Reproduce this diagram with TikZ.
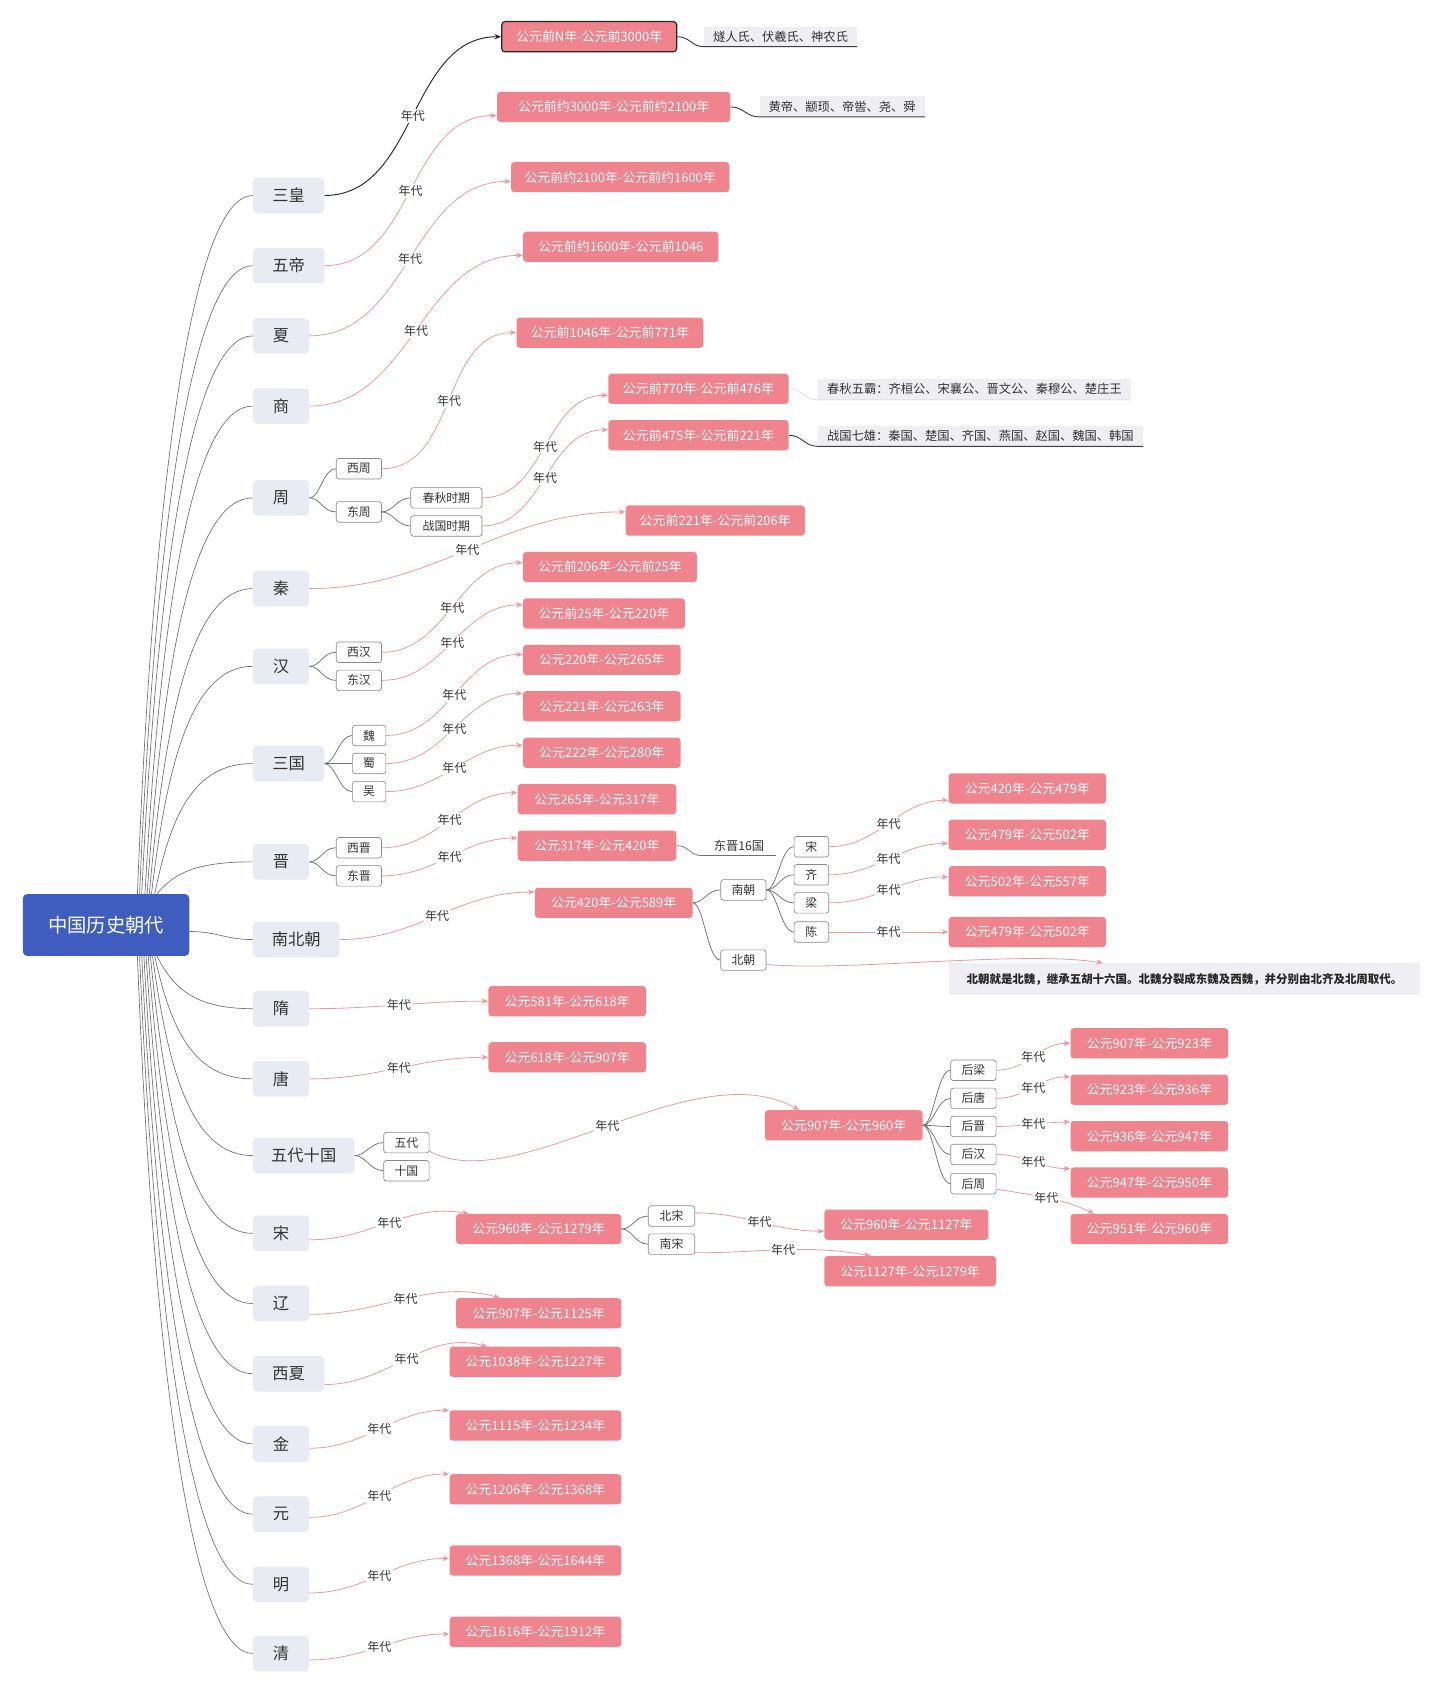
\documentclass[tikz,border=0pt]{standalone}
\usepackage{fontspec}
\setmainfont{Noto Sans CJK SC}
\usetikzlibrary{arrows.meta,calc}
\def\ux{0.81pt}
\definecolor{pinkfill}{HTML}{F0848E}
\definecolor{relpink}{HTML}{EC98A0}
\definecolor{rootblue}{HTML}{3F5DBE}
\definecolor{lvgrey}{HTML}{E9EBF2}
\definecolor{notegrey}{HTML}{EEEEF3}
\definecolor{txt}{HTML}{333333}
\definecolor{treegrey}{HTML}{707070}
\definecolor{subborder}{HTML}{8A8A8A}
\begin{document}
\begin{tikzpicture}[x=0.81pt,y=-0.81pt,
  rootbox/.style={fill=rootblue, rounded corners=3pt, text=white, font=\fontsize{14.5}{17}\selectfont, minimum width=154*\ux, minimum height=57*\ux, inner sep=0pt, anchor=west},
  lvl/.style={fill=lvgrey, rounded corners=3pt, text=txt, font=\fontsize{12.2}{14}\selectfont, minimum width=#1*\ux, minimum height=33*\ux, inner sep=0pt, anchor=west},
  pbox/.style={fill=pinkfill, rounded corners=2.5pt, text=white, font=\fontsize{9.7}{11}\selectfont, minimum width=#1*\ux, minimum height=28*\ux, inner sep=0pt, anchor=west},
  sub/.style={fill=white, draw=subborder, line width=0.5pt, rounded corners=2pt, text=txt, font=\fontsize{8.9}{10}\selectfont, minimum width=#1*\ux, minimum height=19*\ux, inner sep=0pt, anchor=west},
  notebox/.style={fill=notegrey, text=txt, font=\fontsize{9.2}{11}\selectfont, minimum width=#1*\ux, minimum height=19*\ux, inner sep=0pt, anchor=west},
  rootline/.style={draw=treegrey, line width=0.5pt},
  tree/.style={draw=treegrey, line width=0.55pt},
  noteline/.style={draw=black!75, line width=0.7pt},
  rel/.style={draw=relpink, line width=0.6pt, -{Stealth[length=5pt,width=4pt]}},
  relblack/.style={draw=black!85, line width=0.7pt, -{Stealth[length=5pt,width=4pt]}},
  lab/.style={fill=white, inner sep=1pt, text=txt, font=\fontsize{9}{10}\selectfont}
]
\fill[white] (0,0) rectangle (1333.3,1566.7);
\useasboundingbox (0,0) rectangle (1333.3,1566.7);

% root
\node[rootbox] (root) at (21,856.5) {中国历史朝代};

% level 1
\node[lvl=66] (sh) at (234,181) {三皇};
\node[lvl=66] (wd) at (234,246) {五帝};
\node[lvl=52] (xia) at (234,311) {夏};
\node[lvl=52] (shang) at (234,376) {商};
\node[lvl=52] (zhou) at (234,461) {周};
\node[lvl=52] (qin) at (234,545) {秦};
\node[lvl=52] (han) at (234,617) {汉};
\node[lvl=66] (sg) at (234,707) {三国};
\node[lvl=52] (jin) at (234,798) {晋};
\node[lvl=80] (nbc) at (234,870) {南北朝};
\node[lvl=52] (sui) at (234,934) {隋};
\node[lvl=52] (tang) at (234,999) {唐};
\node[lvl=94] (wdsg) at (234,1070) {五代十国};
\node[lvl=52] (song) at (234,1142) {宋};
\node[lvl=52] (liao) at (234,1207) {辽};
\node[lvl=66] (xx) at (234,1272) {西夏};
\node[lvl=52] (jinn) at (234,1337) {金};
\node[lvl=52] (yuan) at (234,1402) {元};
\node[lvl=52] (ming) at (234,1467) {明};
\node[lvl=52] (qing) at (234,1531) {清};

% root edges
\foreach \n/\o/\d in {sh/29/388, wd/31/349, xia/33/310, shang/36/271, zhou/38/220, qin/40/170, han/42/127, sg/45/73, jin/47/18}
  \draw[rootline] ($(root.north)+(\o,0)$) .. controls +(15,-\d) and +(-55,0) .. (\n.west);
\foreach \n/\o/\d in {sui/47/29, tang/45/68, wdsg/43/111, song/41/154, liao/39/193, xx/37/232, jinn/35/271, yuan/33/310, ming/31/349, qing/29/388}
  \draw[rootline] ($(root.south)+(\o,0)$) .. controls +(15,\d) and +(-55,0) .. (\n.west);
\draw[rootline] ($(root.east)+(0,6)$) .. controls +(25,0) and +(-25,0) .. (nbc.west);

% pink boxes
\node[pbox=162, draw=black!85, line width=0.9pt] (p1) at (464,34) {公元前N年-公元前3000年};
\node[pbox=216] (p2) at (460,99) {公元前约3000年-公元前约2100年};
\node[pbox=202] (p3) at (473,164) {公元前约2100年-公元前约1600年};
\node[pbox=181] (p4) at (484,228.5) {公元前约1600年-公元前1046};
\node[pbox=173] (p5) at (478,308) {公元前1046年-公元前771年};
\node[pbox=167] (p6) at (563,360) {公元前770年-公元前476年};
\node[pbox=167] (p7) at (563,403) {公元前475年-公元前221年};
\node[pbox=166] (p8) at (579,482) {公元前221年-公元前206年};
\node[pbox=161] (p9) at (484,525) {公元前206年-公元前25年};
\node[pbox=150] (p10) at (484,568) {公元前25年-公元220年};
\node[pbox=146] (p11) at (484,611) {公元220年-公元265年};
\node[pbox=146] (p12) at (484,654) {公元221年-公元263年};
\node[pbox=146] (p13) at (484,697) {公元222年-公元280年};
\node[pbox=147] (p14) at (479,740) {公元265年-公元317年};
\node[pbox=147] (p15) at (479,783) {公元317年-公元420年};
\node[pbox=146] (p16) at (495,836) {公元420年-公元589年};
\node[pbox=146] (p17) at (878,730) {公元420年-公元479年};
\node[pbox=146] (p18) at (878,773) {公元479年-公元502年};
\node[pbox=146] (p19) at (878,816) {公元502年-公元557年};
\node[pbox=146] (p20) at (878,863) {公元479年-公元502年};
\node[pbox=146] (p21) at (452,927) {公元581年-公元618年};
\node[pbox=146] (p22) at (452,979) {公元618年-公元907年};
\node[pbox=146] (p23) at (708,1042) {公元907年-公元960年};
\node[pbox=146] (p24) at (991,966) {公元907年-公元923年};
\node[pbox=146] (p25) at (991,1009) {公元923年-公元936年};
\node[pbox=146] (p26) at (991,1052) {公元936年-公元947年};
\node[pbox=146] (p27) at (991,1095) {公元947年-公元950年};
\node[pbox=146] (p28) at (991,1138) {公元951年-公元960年};
\node[pbox=153] (p29) at (422,1138) {公元960年-公元1279年};
\node[pbox=152] (p30) at (763,1134) {公元960年-公元1127年};
\node[pbox=159] (p31) at (763,1177) {公元1127年-公元1279年};
\node[pbox=153] (p32) at (422,1216) {公元907年-公元1125年};
\node[pbox=159] (p33) at (416,1261) {公元1038年-公元1227年};
\node[pbox=159] (p34) at (416,1320) {公元1115年-公元1234年};
\node[pbox=159] (p35) at (416,1379) {公元1206年-公元1368年};
\node[pbox=159] (p36) at (416,1445) {公元1368年-公元1644年};
\node[pbox=159] (p37) at (416,1511) {公元1616年-公元1912年};

% sub boxes
\node[sub=42] (xzhou) at (311,434) {西周};
\node[sub=42] (dzhou) at (311,474) {东周};
\node[sub=66] (cq) at (380,461) {春秋时期};
\node[sub=66] (zg) at (380,487) {战国时期};
\node[sub=42] (xhan) at (311,604) {西汉};
\node[sub=42] (dhan) at (311,630) {东汉};
\node[sub=31] (wei) at (326,681) {魏};
\node[sub=31] (shu) at (326,707) {蜀};
\node[sub=31] (wu) at (326,733) {吴};
\node[sub=42] (xjin) at (311,785) {西晋};
\node[sub=42] (djin) at (311,811) {东晋};
\node[sub=42] (nanchao) at (667,824) {南朝};
\node[sub=42] (beichao) at (667,889) {北朝};
\node[sub=32] (s2) at (735,784) {宋};
\node[sub=32] (qi) at (735,810) {齐};
\node[sub=32] (liang) at (735,836) {梁};
\node[sub=32] (chen) at (735,863) {陈};
\node[sub=42] (wudai) at (355,1058) {五代};
\node[sub=42] (shiguo) at (355,1084) {十国};
\node[sub=42] (hl) at (880,991) {后梁};
\node[sub=42] (ht) at (880,1017) {后唐};
\node[sub=42] (hj) at (880,1043) {后晋};
\node[sub=42] (hh) at (880,1069) {后汉};
\node[sub=42] (hz) at (880,1096) {后周};
\node[sub=43] (bs) at (600,1126) {北宋};
\node[sub=43] (ns) at (600,1152) {南宋};
\node[anchor=west, inner sep=0pt, minimum width=68*\ux, minimum height=18*\ux, text=txt, font=\fontsize{9.2}{11}\selectfont] (dj16) at (650,783) {东晋16国};

% notes
\node[notebox=141, minimum height=18*\ux] (n1) at (652,34) {燧人氏、伏羲氏、神农氏};
\node[notebox=153] (n2) at (703,98.5) {黄帝、颛顼、帝喾、尧、舜};
\node[notebox=290] (n6) at (757,360.5) {春秋五霸：齐桓公、宋襄公、晋文公、秦穆公、楚庄王};
\node[notebox=301] (n7) at (757,403.5) {战国七雄：秦国、楚国、齐国、燕国、赵国、魏国、韩国};
\node[notebox=437, minimum height=29*\ux, font=\fontsize{8.6}{10}\selectfont\bfseries, text=black!85] (nb) at (878,906.5) {北朝就是北魏，继承五胡十六国。北魏分裂成东魏及西魏，并分别由北齐及北周取代。};

% tree branches
\foreach \a/\b in {zhou/xzhou, zhou/dzhou, dzhou/cq, dzhou/zg, han/xhan, han/dhan, sg/wei, sg/shu, sg/wu, jin/xjin, jin/djin, p16/nanchao, p16/beichao, nanchao/s2, nanchao/qi, nanchao/liang, nanchao/chen, wdsg/wudai, wdsg/shiguo, p23/hl, p23/ht, p23/hj, p23/hh, p23/hz, p29/bs, p29/ns}
  \draw[tree] (\a.east) .. controls +(10,0) and +(-12,0) .. (\b.west);
\draw[tree] (p15.east) .. controls +(12,0) and +(-12,0) .. (dj16.south west);
\draw[tree] (dj16.south west) -- (dj16.south east);

% note connectors
\draw[noteline] (p1.east) .. controls +(12,0) and +(-12,0) .. (n1.south west) -- (n1.south east);
\draw[noteline] (p2.east) .. controls +(12,0) and +(-12,0) .. (n2.south west) -- (n2.south east);
\draw[draw=black!12, line width=0.7pt] (p6.east) .. controls +(12,0) and +(-12,0) .. (n6.south west) -- (n6.south east);
\draw[noteline] (p7.east) .. controls +(12,0) and +(-12,0) .. (n7.south west) -- (n7.south east);

% relations
\draw[relblack] (sh.east) to[out=0,in=180] node[lab]{年代} (p1.west);
\draw[rel] (wd.east) to[out=0,in=180] node[lab]{年代} ($(p2.west)+(0,8)$);
\draw[rel] (xia.east) to[out=0,in=180] node[lab]{年代} ($(p3.west)+(0,4)$);
\draw[rel] (shang.east) to[out=0,in=180] node[lab]{年代} ($(p4.west)+(0,8)$);
\draw[rel] (xzhou.east) to[out=0,in=180] node[lab]{年代} (p5.west);
\draw[rel] (cq.east) to[out=0,in=180] node[lab]{年代} ($(p6.west)+(0,6)$);
\draw[rel] (zg.east) to[out=0,in=180] node[lab]{年代} ($(p7.west)+(0,-5)$);
\draw[rel] (qin.east) to[out=0,in=180] node[lab]{年代} ($(p8.west)+(0,-8)$);
\draw[rel] (xhan.east) to[out=0,in=180] node[lab]{年代} ($(p9.west)+(0,-4)$);
\draw[rel] (dhan.east) to[out=0,in=180] node[lab]{年代} ($(p10.west)+(0,-8)$);
\draw[rel] (wei.east) to[out=0,in=180] node[lab]{年代} ($(p11.west)+(0,-5)$);
\draw[rel] (shu.east) to[out=0,in=180] node[lab]{年代} ($(p12.west)+(0,-12)$);
\draw[rel] (wu.east) to[out=0,in=180] node[lab]{年代} ($(p13.west)+(0,-7)$);
\draw[rel] (xjin.east) to[out=0,in=180] node[lab]{年代} ($(p14.west)+(0,-6)$);
\draw[rel] (djin.east) to[out=0,in=180] node[lab]{年代} ($(p15.west)+(0,-7)$);
\draw[rel] (nbc.east) to[out=0,in=180] node[lab]{年代} ($(p16.west)+(0,-10)$);
\draw[rel] (s2.east) to[out=0,in=180] node[lab]{年代} ($(p17.west)+(0,11)$);
\draw[rel] (qi.east) to[out=0,in=180] node[lab]{年代} ($(p18.west)+(0,8)$);
\draw[rel] (liang.east) to[out=0,in=180] node[lab]{年代} ($(p19.west)+(0,-4)$);
\draw[rel] (chen.east) to[out=0,in=180] node[lab]{年代} (p20.west);
\draw[rel] ($(beichao.east)+(0,4)$) .. controls +(70,7) and +(-71,-12) .. ($(nb.north west)+(143,0)$);
\draw[rel] (sui.east) to[out=0,in=180] node[lab]{年代} (p21.west);
\draw[rel] (tang.east) to[out=0,in=180] node[lab]{年代} (p22.west);
\draw[rel] ($(wudai.east)+(0,8)$) .. controls +(83,44) and +(-100,-55) .. node[lab]{年代} ($(p23.north west)+(32,0)$);
\draw[rel] (hl.east) to[out=0,in=180] node[lab]{年代} (p24.west);
\draw[rel] (ht.east) to[out=0,in=180] node[lab]{年代} ($(p25.west)+(0,-12)$);
\draw[rel] (hj.east) to[out=0,in=180] node[lab]{年代} ($(p26.west)+(0,-13)$);
\draw[rel] (hh.east) to[out=0,in=180] node[lab]{年代} ($(p27.west)+(0,-13)$);
\draw[rel] ($(hz.east)+(0,5)$) to[out=-10,in=155] node[lab]{年代} ($(p28.north west)+(22,0)$);
\draw[rel] ($(song.east)+(0,6)$) to[out=0,in=170] node[lab]{年代} ($(p29.north west)+(12,0)$);
\draw[rel] ($(bs.east)+(0,-3)$) to[out=0,in=180] node[lab]{年代} ($(p30.west)+(0,6)$);
\draw[rel] ($(ns.east)+(0,8)$) to[out=0,in=170] node[lab]{年代} ($(p31.north west)+(43,0)$);
\draw[rel] ($(liao.east)+(0,10)$) to[out=0,in=165] node[lab]{年代} ($(p32.north west)+(41,0)$);
\draw[rel] ($(xx.east)+(0,10)$) to[out=0,in=165] node[lab]{年代} ($(p33.north west)+(35,0)$);
\draw[rel] ($(jinn.east)+(0,4)$) to[out=0,in=180] node[lab]{年代} (p34.north west);
\draw[rel] ($(yuan.east)+(0,3)$) to[out=0,in=180] node[lab]{年代} (p35.north west);
\draw[rel] ($(ming.east)+(0,8)$) to[out=0,in=180] node[lab]{年代} ($(p36.west)+(0,-2)$);
\draw[rel] ($(qing.east)+(0,6)$) to[out=0,in=180] node[lab]{年代} ($(p37.west)+(0,2)$);
\end{tikzpicture}
\end{document}
